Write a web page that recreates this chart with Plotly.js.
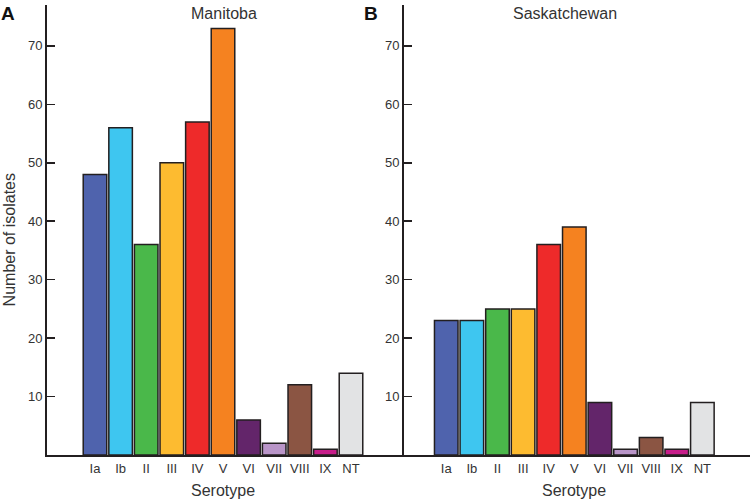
<!DOCTYPE html>
<html>
<head>
<meta charset="utf-8">
<script src="https://cdn.plot.ly/plotly-3.0.1.min.js"></script>
<style>html,body{margin:0;padding:0;background:#fff;}#chart{width:750px;height:501px;}</style>
</head>
<body>
<div id="chart"></div>
<script>
var serotypes = ["Ia","Ib","II","III","IV","V","VI","VII","VIII","IX","NT"];
var manitoba = [48,56,36,50,57,73,6,2,12,1,14];
var saskatchewan = [23,23,25,25,36,39,9,1,3,1,9];
var barColors = ["#4f63ad","#3ec6f0","#4ab84a","#fdbb30","#ee2a2a","#f58220","#63256a","#b995c8","#8b5543","#c71d8a","#e2e3e4"];
var yTicks = [10,20,30,40,50,60,70];

var fontFam = "Arial, 'Liberation Sans', sans-serif";
var lineCol = "#231f20";

var traces = [
  {type:"bar", x:serotypes, y:manitoba, xaxis:"x", yaxis:"y",
   marker:{color:barColors, line:{color:lineCol, width:1.5}}, hoverinfo:"x+y"},
  {type:"bar", x:serotypes, y:saskatchewan, xaxis:"x2", yaxis:"y2",
   marker:{color:barColors, line:{color:lineCol, width:1.5}}, hoverinfo:"x+y"}
];

var yax = {range:[0,77], tickvals:yTicks, ticks:"inside", ticklen:8, tickwidth:1.5, tickcolor:lineCol,
  showline:true, linecolor:lineCol, linewidth:2, showgrid:false, zeroline:false,
  tickfont:{family:fontFam, size:13, color:"#333"}, fixedrange:true};
var xax = {type:"category", showline:true, linecolor:lineCol, linewidth:2, ticks:"", showgrid:false,
  zeroline:false, tickfont:{family:fontFam, size:13, color:"#333"}, fixedrange:true};

function ann(text, x, y, size, extra) {
  return Object.assign({text:text, xref:"paper", yref:"paper", x:x, y:y, xanchor:"center", yanchor:"middle",
    showarrow:false, font:{size:size, family:fontFam, color:"#333"}}, extra || {});
}

var layout = {
  width:750, height:501,
  margin:{l:47, r:0, t:5, b:46},
  paper_bgcolor:"#fff", plot_bgcolor:"rgba(0,0,0,0)",
  showlegend:false, bargap:0.08,
  font:{family:fontFam, color:"#333"},
  xaxis:Object.assign({}, xax, {domain:[0,0.5078], range:[-1.875,12.07], anchor:"y"}),
  yaxis:Object.assign({}, yax, {anchor:"x"}),
  xaxis2:Object.assign({}, xax, {domain:[0.5078,1], range:[-1.65,11.86], anchor:"y2"}),
  yaxis2:Object.assign({}, yax, {anchor:"x2"}),
  annotations:[
    ann("Manitoba", 0.2518, 0.982, 16),
    ann("Saskatchewan", 0.737, 0.982, 16),
    ann("<b>A</b>", -0.0555, 0.982, 19, {font:{size:19, family:fontFam, color:"#111"}}),
    ann("<b>B</b>", 0.461, 0.982, 19, {font:{size:19, family:fontFam, color:"#111"}}),
    ann("Serotype", 0.2498, -0.078, 16),
    ann("Serotype", 0.750, -0.078, 16),
    ann("Number of isolates", -0.054, 0.477, 16, {textangle:-90})
  ]
};

Plotly.newPlot("chart", traces, layout, {displayModeBar:false, staticPlot:true});
</script>
</body>
</html>
